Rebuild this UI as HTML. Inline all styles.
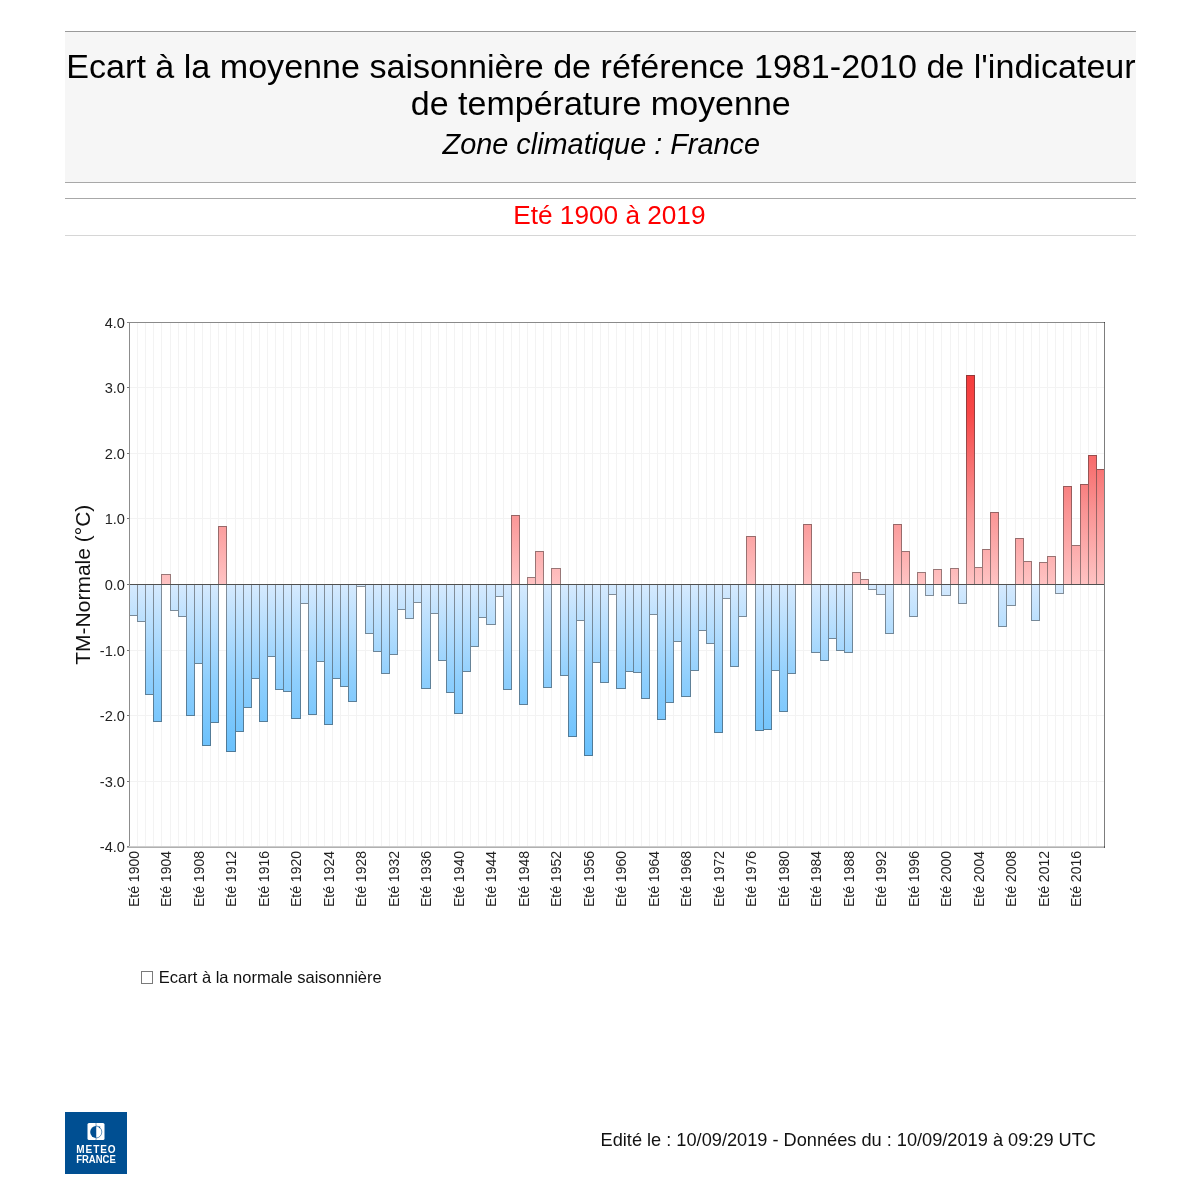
<!DOCTYPE html>
<html><head><meta charset="utf-8">
<style>
html,body{margin:0;padding:0;background:#fff;}
body{width:1200px;height:1200px;position:relative;overflow:hidden;font-family:"Liberation Sans",sans-serif;}
svg{position:absolute;left:0;top:0;will-change:transform;}
</style></head><body>
<svg width="1200" height="1200" viewBox="0 0 1200 1200" font-family="Liberation Sans, sans-serif" shape-rendering="crispEdges">
<defs>
<linearGradient id="gb" gradientUnits="userSpaceOnUse" x1="0" y1="584" x2="0" y2="755">
<stop offset="0" stop-color="#d6eafe"/><stop offset="0.56" stop-color="#8fcffd"/><stop offset="1" stop-color="#68c0fc"/>
</linearGradient>
<linearGradient id="gr" gradientUnits="userSpaceOnUse" x1="0" y1="584" x2="0" y2="376">
<stop offset="0" stop-color="#ffc3c3"/><stop offset="0.35" stop-color="#fa9494"/><stop offset="0.65" stop-color="#f76464"/><stop offset="0.82" stop-color="#f74848"/><stop offset="1" stop-color="#f53c3c"/>
</linearGradient>
</defs>
<rect x="65" y="31" width="1071" height="151" fill="#f6f6f6"/>
<rect x="65" y="31" width="1071" height="1" fill="#9a9a9a"/>
<rect x="65" y="182" width="1071" height="1" fill="#a8a8a8"/>
<rect x="65" y="198" width="1071" height="1" fill="#a8a8a8"/>
<rect x="65" y="235" width="1071" height="1" fill="#d6d6d6"/>
<g shape-rendering="auto">
<text x="601" y="77.7" text-anchor="middle" font-size="34.1" fill="#000">Ecart à la moyenne saisonnière de référence 1981-2010 de l'indicateur</text>
<text x="600.8" y="115.3" text-anchor="middle" font-size="34" fill="#000">de température moyenne</text>
<text x="601.3" y="153.7" text-anchor="middle" font-size="28.85" font-style="italic" fill="#000">Zone climatique : France</text>
<text x="609.4" y="224.4" text-anchor="middle" font-size="26.2" fill="#ff0000">Eté 1900 à 2019</text>
</g>
<g>
<rect x="137" y="323" width="1" height="523" fill="#f3f3f3"/>
<rect x="145" y="323" width="1" height="523" fill="#f3f3f3"/>
<rect x="153" y="323" width="1" height="523" fill="#f3f3f3"/>
<rect x="161" y="323" width="1" height="523" fill="#f3f3f3"/>
<rect x="170" y="323" width="1" height="523" fill="#f3f3f3"/>
<rect x="178" y="323" width="1" height="523" fill="#f3f3f3"/>
<rect x="186" y="323" width="1" height="523" fill="#f3f3f3"/>
<rect x="194" y="323" width="1" height="523" fill="#f3f3f3"/>
<rect x="202" y="323" width="1" height="523" fill="#f3f3f3"/>
<rect x="210" y="323" width="1" height="523" fill="#f3f3f3"/>
<rect x="218" y="323" width="1" height="523" fill="#f3f3f3"/>
<rect x="226" y="323" width="1" height="523" fill="#f3f3f3"/>
<rect x="235" y="323" width="1" height="523" fill="#f3f3f3"/>
<rect x="243" y="323" width="1" height="523" fill="#f3f3f3"/>
<rect x="251" y="323" width="1" height="523" fill="#f3f3f3"/>
<rect x="259" y="323" width="1" height="523" fill="#f3f3f3"/>
<rect x="267" y="323" width="1" height="523" fill="#f3f3f3"/>
<rect x="275" y="323" width="1" height="523" fill="#f3f3f3"/>
<rect x="283" y="323" width="1" height="523" fill="#f3f3f3"/>
<rect x="291" y="323" width="1" height="523" fill="#f3f3f3"/>
<rect x="300" y="323" width="1" height="523" fill="#f3f3f3"/>
<rect x="308" y="323" width="1" height="523" fill="#f3f3f3"/>
<rect x="316" y="323" width="1" height="523" fill="#f3f3f3"/>
<rect x="324" y="323" width="1" height="523" fill="#f3f3f3"/>
<rect x="332" y="323" width="1" height="523" fill="#f3f3f3"/>
<rect x="340" y="323" width="1" height="523" fill="#f3f3f3"/>
<rect x="348" y="323" width="1" height="523" fill="#f3f3f3"/>
<rect x="356" y="323" width="1" height="523" fill="#f3f3f3"/>
<rect x="365" y="323" width="1" height="523" fill="#f3f3f3"/>
<rect x="373" y="323" width="1" height="523" fill="#f3f3f3"/>
<rect x="381" y="323" width="1" height="523" fill="#f3f3f3"/>
<rect x="389" y="323" width="1" height="523" fill="#f3f3f3"/>
<rect x="397" y="323" width="1" height="523" fill="#f3f3f3"/>
<rect x="405" y="323" width="1" height="523" fill="#f3f3f3"/>
<rect x="413" y="323" width="1" height="523" fill="#f3f3f3"/>
<rect x="421" y="323" width="1" height="523" fill="#f3f3f3"/>
<rect x="430" y="323" width="1" height="523" fill="#f3f3f3"/>
<rect x="438" y="323" width="1" height="523" fill="#f3f3f3"/>
<rect x="446" y="323" width="1" height="523" fill="#f3f3f3"/>
<rect x="454" y="323" width="1" height="523" fill="#f3f3f3"/>
<rect x="462" y="323" width="1" height="523" fill="#f3f3f3"/>
<rect x="470" y="323" width="1" height="523" fill="#f3f3f3"/>
<rect x="478" y="323" width="1" height="523" fill="#f3f3f3"/>
<rect x="486" y="323" width="1" height="523" fill="#f3f3f3"/>
<rect x="495" y="323" width="1" height="523" fill="#f3f3f3"/>
<rect x="503" y="323" width="1" height="523" fill="#f3f3f3"/>
<rect x="511" y="323" width="1" height="523" fill="#f3f3f3"/>
<rect x="519" y="323" width="1" height="523" fill="#f3f3f3"/>
<rect x="527" y="323" width="1" height="523" fill="#f3f3f3"/>
<rect x="535" y="323" width="1" height="523" fill="#f3f3f3"/>
<rect x="543" y="323" width="1" height="523" fill="#f3f3f3"/>
<rect x="551" y="323" width="1" height="523" fill="#f3f3f3"/>
<rect x="560" y="323" width="1" height="523" fill="#f3f3f3"/>
<rect x="568" y="323" width="1" height="523" fill="#f3f3f3"/>
<rect x="576" y="323" width="1" height="523" fill="#f3f3f3"/>
<rect x="584" y="323" width="1" height="523" fill="#f3f3f3"/>
<rect x="592" y="323" width="1" height="523" fill="#f3f3f3"/>
<rect x="600" y="323" width="1" height="523" fill="#f3f3f3"/>
<rect x="608" y="323" width="1" height="523" fill="#f3f3f3"/>
<rect x="616" y="323" width="1" height="523" fill="#f3f3f3"/>
<rect x="625" y="323" width="1" height="523" fill="#f3f3f3"/>
<rect x="633" y="323" width="1" height="523" fill="#f3f3f3"/>
<rect x="641" y="323" width="1" height="523" fill="#f3f3f3"/>
<rect x="649" y="323" width="1" height="523" fill="#f3f3f3"/>
<rect x="657" y="323" width="1" height="523" fill="#f3f3f3"/>
<rect x="665" y="323" width="1" height="523" fill="#f3f3f3"/>
<rect x="673" y="323" width="1" height="523" fill="#f3f3f3"/>
<rect x="681" y="323" width="1" height="523" fill="#f3f3f3"/>
<rect x="690" y="323" width="1" height="523" fill="#f3f3f3"/>
<rect x="698" y="323" width="1" height="523" fill="#f3f3f3"/>
<rect x="706" y="323" width="1" height="523" fill="#f3f3f3"/>
<rect x="714" y="323" width="1" height="523" fill="#f3f3f3"/>
<rect x="722" y="323" width="1" height="523" fill="#f3f3f3"/>
<rect x="730" y="323" width="1" height="523" fill="#f3f3f3"/>
<rect x="738" y="323" width="1" height="523" fill="#f3f3f3"/>
<rect x="746" y="323" width="1" height="523" fill="#f3f3f3"/>
<rect x="755" y="323" width="1" height="523" fill="#f3f3f3"/>
<rect x="763" y="323" width="1" height="523" fill="#f3f3f3"/>
<rect x="771" y="323" width="1" height="523" fill="#f3f3f3"/>
<rect x="779" y="323" width="1" height="523" fill="#f3f3f3"/>
<rect x="787" y="323" width="1" height="523" fill="#f3f3f3"/>
<rect x="795" y="323" width="1" height="523" fill="#f3f3f3"/>
<rect x="803" y="323" width="1" height="523" fill="#f3f3f3"/>
<rect x="811" y="323" width="1" height="523" fill="#f3f3f3"/>
<rect x="820" y="323" width="1" height="523" fill="#f3f3f3"/>
<rect x="828" y="323" width="1" height="523" fill="#f3f3f3"/>
<rect x="836" y="323" width="1" height="523" fill="#f3f3f3"/>
<rect x="844" y="323" width="1" height="523" fill="#f3f3f3"/>
<rect x="852" y="323" width="1" height="523" fill="#f3f3f3"/>
<rect x="860" y="323" width="1" height="523" fill="#f3f3f3"/>
<rect x="868" y="323" width="1" height="523" fill="#f3f3f3"/>
<rect x="876" y="323" width="1" height="523" fill="#f3f3f3"/>
<rect x="885" y="323" width="1" height="523" fill="#f3f3f3"/>
<rect x="893" y="323" width="1" height="523" fill="#f3f3f3"/>
<rect x="901" y="323" width="1" height="523" fill="#f3f3f3"/>
<rect x="909" y="323" width="1" height="523" fill="#f3f3f3"/>
<rect x="917" y="323" width="1" height="523" fill="#f3f3f3"/>
<rect x="925" y="323" width="1" height="523" fill="#f3f3f3"/>
<rect x="933" y="323" width="1" height="523" fill="#f3f3f3"/>
<rect x="941" y="323" width="1" height="523" fill="#f3f3f3"/>
<rect x="950" y="323" width="1" height="523" fill="#f3f3f3"/>
<rect x="958" y="323" width="1" height="523" fill="#f3f3f3"/>
<rect x="966" y="323" width="1" height="523" fill="#f3f3f3"/>
<rect x="974" y="323" width="1" height="523" fill="#f3f3f3"/>
<rect x="982" y="323" width="1" height="523" fill="#f3f3f3"/>
<rect x="990" y="323" width="1" height="523" fill="#f3f3f3"/>
<rect x="998" y="323" width="1" height="523" fill="#f3f3f3"/>
<rect x="1006" y="323" width="1" height="523" fill="#f3f3f3"/>
<rect x="1015" y="323" width="1" height="523" fill="#f3f3f3"/>
<rect x="1023" y="323" width="1" height="523" fill="#f3f3f3"/>
<rect x="1031" y="323" width="1" height="523" fill="#f3f3f3"/>
<rect x="1039" y="323" width="1" height="523" fill="#f3f3f3"/>
<rect x="1047" y="323" width="1" height="523" fill="#f3f3f3"/>
<rect x="1055" y="323" width="1" height="523" fill="#f3f3f3"/>
<rect x="1063" y="323" width="1" height="523" fill="#f3f3f3"/>
<rect x="1071" y="323" width="1" height="523" fill="#f3f3f3"/>
<rect x="1080" y="323" width="1" height="523" fill="#f3f3f3"/>
<rect x="1088" y="323" width="1" height="523" fill="#f3f3f3"/>
<rect x="1096" y="323" width="1" height="523" fill="#f3f3f3"/>
<rect x="130" y="387" width="974" height="1" fill="#f3f3f3"/>
<rect x="130" y="453" width="974" height="1" fill="#f3f3f3"/>
<rect x="130" y="518" width="974" height="1" fill="#f3f3f3"/>
<rect x="130" y="584" width="974" height="1" fill="#f3f3f3"/>
<rect x="130" y="650" width="974" height="1" fill="#f3f3f3"/>
<rect x="130" y="715" width="974" height="1" fill="#f3f3f3"/>
<rect x="130" y="781" width="974" height="1" fill="#f3f3f3"/>
<rect x="129" y="584" width="9" height="32" fill="url(#gb)"/>
<rect x="137" y="584" width="9" height="38" fill="url(#gb)"/>
<rect x="145" y="584" width="9" height="111" fill="url(#gb)"/>
<rect x="153" y="584" width="9" height="138" fill="url(#gb)"/>
<rect x="161" y="574" width="10" height="11" fill="url(#gr)"/>
<rect x="170" y="584" width="9" height="27" fill="url(#gb)"/>
<rect x="178" y="584" width="9" height="33" fill="url(#gb)"/>
<rect x="186" y="584" width="9" height="132" fill="url(#gb)"/>
<rect x="194" y="584" width="9" height="80" fill="url(#gb)"/>
<rect x="202" y="584" width="9" height="162" fill="url(#gb)"/>
<rect x="210" y="584" width="9" height="139" fill="url(#gb)"/>
<rect x="218" y="526" width="9" height="59" fill="url(#gr)"/>
<rect x="226" y="584" width="10" height="168" fill="url(#gb)"/>
<rect x="235" y="584" width="9" height="148" fill="url(#gb)"/>
<rect x="243" y="584" width="9" height="124" fill="url(#gb)"/>
<rect x="251" y="584" width="9" height="95" fill="url(#gb)"/>
<rect x="259" y="584" width="9" height="138" fill="url(#gb)"/>
<rect x="267" y="584" width="9" height="73" fill="url(#gb)"/>
<rect x="275" y="584" width="9" height="106" fill="url(#gb)"/>
<rect x="283" y="584" width="9" height="108" fill="url(#gb)"/>
<rect x="291" y="584" width="10" height="135" fill="url(#gb)"/>
<rect x="300" y="584" width="9" height="20" fill="url(#gb)"/>
<rect x="308" y="584" width="9" height="131" fill="url(#gb)"/>
<rect x="316" y="584" width="9" height="78" fill="url(#gb)"/>
<rect x="324" y="584" width="9" height="141" fill="url(#gb)"/>
<rect x="332" y="584" width="9" height="95" fill="url(#gb)"/>
<rect x="340" y="584" width="9" height="103" fill="url(#gb)"/>
<rect x="348" y="584" width="9" height="118" fill="url(#gb)"/>
<rect x="356" y="584" width="10" height="3" fill="url(#gb)"/>
<rect x="365" y="584" width="9" height="50" fill="url(#gb)"/>
<rect x="373" y="584" width="9" height="68" fill="url(#gb)"/>
<rect x="381" y="584" width="9" height="90" fill="url(#gb)"/>
<rect x="389" y="584" width="9" height="71" fill="url(#gb)"/>
<rect x="397" y="584" width="9" height="26" fill="url(#gb)"/>
<rect x="405" y="584" width="9" height="35" fill="url(#gb)"/>
<rect x="413" y="584" width="9" height="19" fill="url(#gb)"/>
<rect x="421" y="584" width="10" height="105" fill="url(#gb)"/>
<rect x="430" y="584" width="9" height="30" fill="url(#gb)"/>
<rect x="438" y="584" width="9" height="77" fill="url(#gb)"/>
<rect x="446" y="584" width="9" height="109" fill="url(#gb)"/>
<rect x="454" y="584" width="9" height="130" fill="url(#gb)"/>
<rect x="462" y="584" width="9" height="88" fill="url(#gb)"/>
<rect x="470" y="584" width="9" height="63" fill="url(#gb)"/>
<rect x="478" y="584" width="9" height="34" fill="url(#gb)"/>
<rect x="486" y="584" width="10" height="41" fill="url(#gb)"/>
<rect x="495" y="584" width="9" height="13" fill="url(#gb)"/>
<rect x="503" y="584" width="9" height="106" fill="url(#gb)"/>
<rect x="511" y="515" width="9" height="70" fill="url(#gr)"/>
<rect x="519" y="584" width="9" height="121" fill="url(#gb)"/>
<rect x="527" y="577" width="9" height="8" fill="url(#gr)"/>
<rect x="535" y="551" width="9" height="34" fill="url(#gr)"/>
<rect x="543" y="584" width="9" height="104" fill="url(#gb)"/>
<rect x="551" y="568" width="10" height="17" fill="url(#gr)"/>
<rect x="560" y="584" width="9" height="92" fill="url(#gb)"/>
<rect x="568" y="584" width="9" height="153" fill="url(#gb)"/>
<rect x="576" y="584" width="9" height="37" fill="url(#gb)"/>
<rect x="584" y="584" width="9" height="172" fill="url(#gb)"/>
<rect x="592" y="584" width="9" height="79" fill="url(#gb)"/>
<rect x="600" y="584" width="9" height="99" fill="url(#gb)"/>
<rect x="608" y="584" width="9" height="11" fill="url(#gb)"/>
<rect x="616" y="584" width="10" height="105" fill="url(#gb)"/>
<rect x="625" y="584" width="9" height="88" fill="url(#gb)"/>
<rect x="633" y="584" width="9" height="89" fill="url(#gb)"/>
<rect x="641" y="584" width="9" height="115" fill="url(#gb)"/>
<rect x="649" y="584" width="9" height="31" fill="url(#gb)"/>
<rect x="657" y="584" width="9" height="136" fill="url(#gb)"/>
<rect x="665" y="584" width="9" height="119" fill="url(#gb)"/>
<rect x="673" y="584" width="9" height="58" fill="url(#gb)"/>
<rect x="681" y="584" width="10" height="113" fill="url(#gb)"/>
<rect x="690" y="584" width="9" height="87" fill="url(#gb)"/>
<rect x="698" y="584" width="9" height="47" fill="url(#gb)"/>
<rect x="706" y="584" width="9" height="60" fill="url(#gb)"/>
<rect x="714" y="584" width="9" height="149" fill="url(#gb)"/>
<rect x="722" y="584" width="9" height="15" fill="url(#gb)"/>
<rect x="730" y="584" width="9" height="83" fill="url(#gb)"/>
<rect x="738" y="584" width="9" height="33" fill="url(#gb)"/>
<rect x="746" y="536" width="10" height="49" fill="url(#gr)"/>
<rect x="755" y="584" width="9" height="147" fill="url(#gb)"/>
<rect x="763" y="584" width="9" height="146" fill="url(#gb)"/>
<rect x="771" y="584" width="9" height="87" fill="url(#gb)"/>
<rect x="779" y="584" width="9" height="128" fill="url(#gb)"/>
<rect x="787" y="584" width="9" height="90" fill="url(#gb)"/>
<rect x="803" y="524" width="9" height="61" fill="url(#gr)"/>
<rect x="811" y="584" width="10" height="69" fill="url(#gb)"/>
<rect x="820" y="584" width="9" height="77" fill="url(#gb)"/>
<rect x="828" y="584" width="9" height="55" fill="url(#gb)"/>
<rect x="836" y="584" width="9" height="67" fill="url(#gb)"/>
<rect x="844" y="584" width="9" height="69" fill="url(#gb)"/>
<rect x="852" y="572" width="9" height="13" fill="url(#gr)"/>
<rect x="860" y="579" width="9" height="6" fill="url(#gr)"/>
<rect x="868" y="584" width="9" height="6" fill="url(#gb)"/>
<rect x="876" y="584" width="10" height="11" fill="url(#gb)"/>
<rect x="885" y="584" width="9" height="50" fill="url(#gb)"/>
<rect x="893" y="524" width="9" height="61" fill="url(#gr)"/>
<rect x="901" y="551" width="9" height="34" fill="url(#gr)"/>
<rect x="909" y="584" width="9" height="33" fill="url(#gb)"/>
<rect x="917" y="572" width="9" height="13" fill="url(#gr)"/>
<rect x="925" y="584" width="9" height="12" fill="url(#gb)"/>
<rect x="933" y="569" width="9" height="16" fill="url(#gr)"/>
<rect x="941" y="584" width="10" height="12" fill="url(#gb)"/>
<rect x="950" y="568" width="9" height="17" fill="url(#gr)"/>
<rect x="958" y="584" width="9" height="20" fill="url(#gb)"/>
<rect x="966" y="375" width="9" height="210" fill="url(#gr)"/>
<rect x="974" y="567" width="9" height="18" fill="url(#gr)"/>
<rect x="982" y="549" width="9" height="36" fill="url(#gr)"/>
<rect x="990" y="512" width="9" height="73" fill="url(#gr)"/>
<rect x="998" y="584" width="9" height="43" fill="url(#gb)"/>
<rect x="1006" y="584" width="10" height="22" fill="url(#gb)"/>
<rect x="1015" y="538" width="9" height="47" fill="url(#gr)"/>
<rect x="1023" y="561" width="9" height="24" fill="url(#gr)"/>
<rect x="1031" y="584" width="9" height="37" fill="url(#gb)"/>
<rect x="1039" y="562" width="9" height="23" fill="url(#gr)"/>
<rect x="1047" y="556" width="9" height="29" fill="url(#gr)"/>
<rect x="1055" y="584" width="9" height="10" fill="url(#gb)"/>
<rect x="1063" y="486" width="9" height="99" fill="url(#gr)"/>
<rect x="1071" y="545" width="10" height="40" fill="url(#gr)"/>
<rect x="1080" y="484" width="9" height="101" fill="url(#gr)"/>
<rect x="1088" y="455" width="9" height="130" fill="url(#gr)"/>
<rect x="1096" y="469" width="9" height="116" fill="url(#gr)"/>
<path d="M129.5 584.5V615.5H137.5V584.5M137.5 584.5V621.5H145.5V584.5M145.5 584.5V694.5H153.5V584.5M153.5 584.5V721.5H161.5V584.5M161.5 584.5V574.5H170.5V584.5M170.5 584.5V610.5H178.5V584.5M178.5 584.5V616.5H186.5V584.5M186.5 584.5V715.5H194.5V584.5M194.5 584.5V663.5H202.5V584.5M202.5 584.5V745.5H210.5V584.5M210.5 584.5V722.5H218.5V584.5M218.5 584.5V526.5H226.5V584.5M226.5 584.5V751.5H235.5V584.5M235.5 584.5V731.5H243.5V584.5M243.5 584.5V707.5H251.5V584.5M251.5 584.5V678.5H259.5V584.5M259.5 584.5V721.5H267.5V584.5M267.5 584.5V656.5H275.5V584.5M275.5 584.5V689.5H283.5V584.5M283.5 584.5V691.5H291.5V584.5M291.5 584.5V718.5H300.5V584.5M300.5 584.5V603.5H308.5V584.5M308.5 584.5V714.5H316.5V584.5M316.5 584.5V661.5H324.5V584.5M324.5 584.5V724.5H332.5V584.5M332.5 584.5V678.5H340.5V584.5M340.5 584.5V686.5H348.5V584.5M348.5 584.5V701.5H356.5V584.5M356.5 584.5V586.5H365.5V584.5M365.5 584.5V633.5H373.5V584.5M373.5 584.5V651.5H381.5V584.5M381.5 584.5V673.5H389.5V584.5M389.5 584.5V654.5H397.5V584.5M397.5 584.5V609.5H405.5V584.5M405.5 584.5V618.5H413.5V584.5M413.5 584.5V602.5H421.5V584.5M421.5 584.5V688.5H430.5V584.5M430.5 584.5V613.5H438.5V584.5M438.5 584.5V660.5H446.5V584.5M446.5 584.5V692.5H454.5V584.5M454.5 584.5V713.5H462.5V584.5M462.5 584.5V671.5H470.5V584.5M470.5 584.5V646.5H478.5V584.5M478.5 584.5V617.5H486.5V584.5M486.5 584.5V624.5H495.5V584.5M495.5 584.5V596.5H503.5V584.5M503.5 584.5V689.5H511.5V584.5M511.5 584.5V515.5H519.5V584.5M519.5 584.5V704.5H527.5V584.5M527.5 584.5V577.5H535.5V584.5M535.5 584.5V551.5H543.5V584.5M543.5 584.5V687.5H551.5V584.5M551.5 584.5V568.5H560.5V584.5M560.5 584.5V675.5H568.5V584.5M568.5 584.5V736.5H576.5V584.5M576.5 584.5V620.5H584.5V584.5M584.5 584.5V755.5H592.5V584.5M592.5 584.5V662.5H600.5V584.5M600.5 584.5V682.5H608.5V584.5M608.5 584.5V594.5H616.5V584.5M616.5 584.5V688.5H625.5V584.5M625.5 584.5V671.5H633.5V584.5M633.5 584.5V672.5H641.5V584.5M641.5 584.5V698.5H649.5V584.5M649.5 584.5V614.5H657.5V584.5M657.5 584.5V719.5H665.5V584.5M665.5 584.5V702.5H673.5V584.5M673.5 584.5V641.5H681.5V584.5M681.5 584.5V696.5H690.5V584.5M690.5 584.5V670.5H698.5V584.5M698.5 584.5V630.5H706.5V584.5M706.5 584.5V643.5H714.5V584.5M714.5 584.5V732.5H722.5V584.5M722.5 584.5V598.5H730.5V584.5M730.5 584.5V666.5H738.5V584.5M738.5 584.5V616.5H746.5V584.5M746.5 584.5V536.5H755.5V584.5M755.5 584.5V730.5H763.5V584.5M763.5 584.5V729.5H771.5V584.5M771.5 584.5V670.5H779.5V584.5M779.5 584.5V711.5H787.5V584.5M787.5 584.5V673.5H795.5V584.5M803.5 584.5V524.5H811.5V584.5M811.5 584.5V652.5H820.5V584.5M820.5 584.5V660.5H828.5V584.5M828.5 584.5V638.5H836.5V584.5M836.5 584.5V650.5H844.5V584.5M844.5 584.5V652.5H852.5V584.5M852.5 584.5V572.5H860.5V584.5M860.5 584.5V579.5H868.5V584.5M868.5 584.5V589.5H876.5V584.5M876.5 584.5V594.5H885.5V584.5M885.5 584.5V633.5H893.5V584.5M893.5 584.5V524.5H901.5V584.5M901.5 584.5V551.5H909.5V584.5M909.5 584.5V616.5H917.5V584.5M917.5 584.5V572.5H925.5V584.5M925.5 584.5V595.5H933.5V584.5M933.5 584.5V569.5H941.5V584.5M941.5 584.5V595.5H950.5V584.5M950.5 584.5V568.5H958.5V584.5M958.5 584.5V603.5H966.5V584.5M966.5 584.5V375.5H974.5V584.5M974.5 584.5V567.5H982.5V584.5M982.5 584.5V549.5H990.5V584.5M990.5 584.5V512.5H998.5V584.5M998.5 584.5V626.5H1006.5V584.5M1006.5 584.5V605.5H1015.5V584.5M1015.5 584.5V538.5H1023.5V584.5M1023.5 584.5V561.5H1031.5V584.5M1031.5 584.5V620.5H1039.5V584.5M1039.5 584.5V562.5H1047.5V584.5M1047.5 584.5V556.5H1055.5V584.5M1055.5 584.5V593.5H1063.5V584.5M1063.5 584.5V486.5H1071.5V584.5M1071.5 584.5V545.5H1080.5V584.5M1080.5 584.5V484.5H1088.5V584.5M1088.5 584.5V455.5H1096.5V584.5M1096.5 584.5V469.5H1104.5V584.5" fill="none" stroke="#333" stroke-opacity="0.5" stroke-linecap="square"/>
<rect x="127" y="584" width="977" height="1" fill="#505050"/>
<rect x="129" y="322" width="1" height="525" fill="#8c8c8c"/>
<rect x="129" y="322" width="976" height="1" fill="#8a8a8a"/>
<rect x="1104" y="322" width="1" height="525" fill="#7d7d7d"/>
<rect x="1104" y="322" width="1" height="1" fill="#444"/>
<rect x="127" y="846" width="978" height="1" fill="#cdcdcd"/><rect x="127" y="847" width="978" height="1" fill="#b0b0b0"/>
<rect x="1104" y="846" width="1" height="2" fill="#555"/>
<rect x="127" y="322" width="2" height="1" fill="#888"/>
<text x="125" y="327.5" text-anchor="end" font-size="14.6" fill="#222">4.0</text>
<rect x="127" y="387" width="2" height="1" fill="#777"/>
<text x="125" y="392.5" text-anchor="end" font-size="14.6" fill="#222">3.0</text>
<rect x="127" y="453" width="2" height="1" fill="#777"/>
<text x="125" y="458.5" text-anchor="end" font-size="14.6" fill="#222">2.0</text>
<rect x="127" y="518" width="2" height="1" fill="#777"/>
<text x="125" y="523.5" text-anchor="end" font-size="14.6" fill="#222">1.0</text>
<rect x="127" y="584" width="2" height="1" fill="#777"/>
<text x="125" y="589.5" text-anchor="end" font-size="14.6" fill="#222">0.0</text>
<rect x="127" y="650" width="2" height="1" fill="#777"/>
<text x="125" y="655.5" text-anchor="end" font-size="14.6" fill="#222">-1.0</text>
<rect x="127" y="715" width="2" height="1" fill="#777"/>
<text x="125" y="720.5" text-anchor="end" font-size="14.6" fill="#222">-2.0</text>
<rect x="127" y="781" width="2" height="1" fill="#777"/>
<text x="125" y="786.5" text-anchor="end" font-size="14.6" fill="#222">-3.0</text>
<rect x="127" y="846" width="2" height="1" fill="#888"/>
<text x="125" y="851.5" text-anchor="end" font-size="14.6" fill="#222">-4.0</text>
<text transform="translate(138.56,851) rotate(-90)" text-anchor="end" font-size="14" fill="#222">Eté 1900</text>
<text transform="translate(171.06,851) rotate(-90)" text-anchor="end" font-size="14" fill="#222">Eté 1904</text>
<text transform="translate(203.56,851) rotate(-90)" text-anchor="end" font-size="14" fill="#222">Eté 1908</text>
<text transform="translate(236.06,851) rotate(-90)" text-anchor="end" font-size="14" fill="#222">Eté 1912</text>
<text transform="translate(268.56,851) rotate(-90)" text-anchor="end" font-size="14" fill="#222">Eté 1916</text>
<text transform="translate(301.06,851) rotate(-90)" text-anchor="end" font-size="14" fill="#222">Eté 1920</text>
<text transform="translate(333.56,851) rotate(-90)" text-anchor="end" font-size="14" fill="#222">Eté 1924</text>
<text transform="translate(366.06,851) rotate(-90)" text-anchor="end" font-size="14" fill="#222">Eté 1928</text>
<text transform="translate(398.56,851) rotate(-90)" text-anchor="end" font-size="14" fill="#222">Eté 1932</text>
<text transform="translate(431.06,851) rotate(-90)" text-anchor="end" font-size="14" fill="#222">Eté 1936</text>
<text transform="translate(463.56,851) rotate(-90)" text-anchor="end" font-size="14" fill="#222">Eté 1940</text>
<text transform="translate(496.06,851) rotate(-90)" text-anchor="end" font-size="14" fill="#222">Eté 1944</text>
<text transform="translate(528.56,851) rotate(-90)" text-anchor="end" font-size="14" fill="#222">Eté 1948</text>
<text transform="translate(561.06,851) rotate(-90)" text-anchor="end" font-size="14" fill="#222">Eté 1952</text>
<text transform="translate(593.56,851) rotate(-90)" text-anchor="end" font-size="14" fill="#222">Eté 1956</text>
<text transform="translate(626.06,851) rotate(-90)" text-anchor="end" font-size="14" fill="#222">Eté 1960</text>
<text transform="translate(658.56,851) rotate(-90)" text-anchor="end" font-size="14" fill="#222">Eté 1964</text>
<text transform="translate(691.06,851) rotate(-90)" text-anchor="end" font-size="14" fill="#222">Eté 1968</text>
<text transform="translate(723.56,851) rotate(-90)" text-anchor="end" font-size="14" fill="#222">Eté 1972</text>
<text transform="translate(756.06,851) rotate(-90)" text-anchor="end" font-size="14" fill="#222">Eté 1976</text>
<text transform="translate(788.56,851) rotate(-90)" text-anchor="end" font-size="14" fill="#222">Eté 1980</text>
<text transform="translate(821.06,851) rotate(-90)" text-anchor="end" font-size="14" fill="#222">Eté 1984</text>
<text transform="translate(853.56,851) rotate(-90)" text-anchor="end" font-size="14" fill="#222">Eté 1988</text>
<text transform="translate(886.06,851) rotate(-90)" text-anchor="end" font-size="14" fill="#222">Eté 1992</text>
<text transform="translate(918.56,851) rotate(-90)" text-anchor="end" font-size="14" fill="#222">Eté 1996</text>
<text transform="translate(951.06,851) rotate(-90)" text-anchor="end" font-size="14" fill="#222">Eté 2000</text>
<text transform="translate(983.56,851) rotate(-90)" text-anchor="end" font-size="14" fill="#222">Eté 2004</text>
<text transform="translate(1016.06,851) rotate(-90)" text-anchor="end" font-size="14" fill="#222">Eté 2008</text>
<text transform="translate(1048.56,851) rotate(-90)" text-anchor="end" font-size="14" fill="#222">Eté 2012</text>
<text transform="translate(1081.06,851) rotate(-90)" text-anchor="end" font-size="14" fill="#222">Eté 2016</text>
<text transform="translate(89.8,584.7) rotate(-90)" text-anchor="middle" font-size="21" fill="#111">TM-Normale (°C)</text>
</g>
<rect x="141.5" y="971.5" width="11" height="12" fill="#fff" stroke="#7a7a7a"/>
<text x="158.8" y="983.1" font-size="16.5" fill="#111" shape-rendering="auto">Ecart à la normale saisonnière</text>
<text x="1096" y="1145.8" text-anchor="end" font-size="18.2" fill="#111" shape-rendering="auto">Edité le : 10/09/2019 - Données du : 10/09/2019 à 09:29 UTC</text>
<g shape-rendering="auto">
<rect x="65" y="1112" width="62" height="62" fill="#004f92"/>
<rect x="87.5" y="1123" width="17" height="17" rx="1.5" fill="#fff"/>
<path d="M96 1126 A5.8 6 0 0 0 96 1138 Z" fill="#004f92"/>
<path d="M96 1126 A5.8 6 0 0 1 96 1138" fill="none" stroke="#004f92" stroke-width="0.6"/>
<line x1="96" y1="1123" x2="96" y2="1140" stroke="#004f92" stroke-width="0.5"/>
<path d="M98.5 1126.5 L100.5 1126.8 L99.2 1128.5 Z" fill="#004f92"/>
<text x="76.3" y="1152.6" font-size="10" font-weight="bold" fill="#fff" textLength="39.3" lengthAdjust="spacing">METEO</text>
<text x="76.2" y="1162.6" font-size="10" font-weight="bold" fill="#fff" textLength="39.6" lengthAdjust="spacingAndGlyphs">FRANCE</text>
</g>
</svg>
</body></html>
